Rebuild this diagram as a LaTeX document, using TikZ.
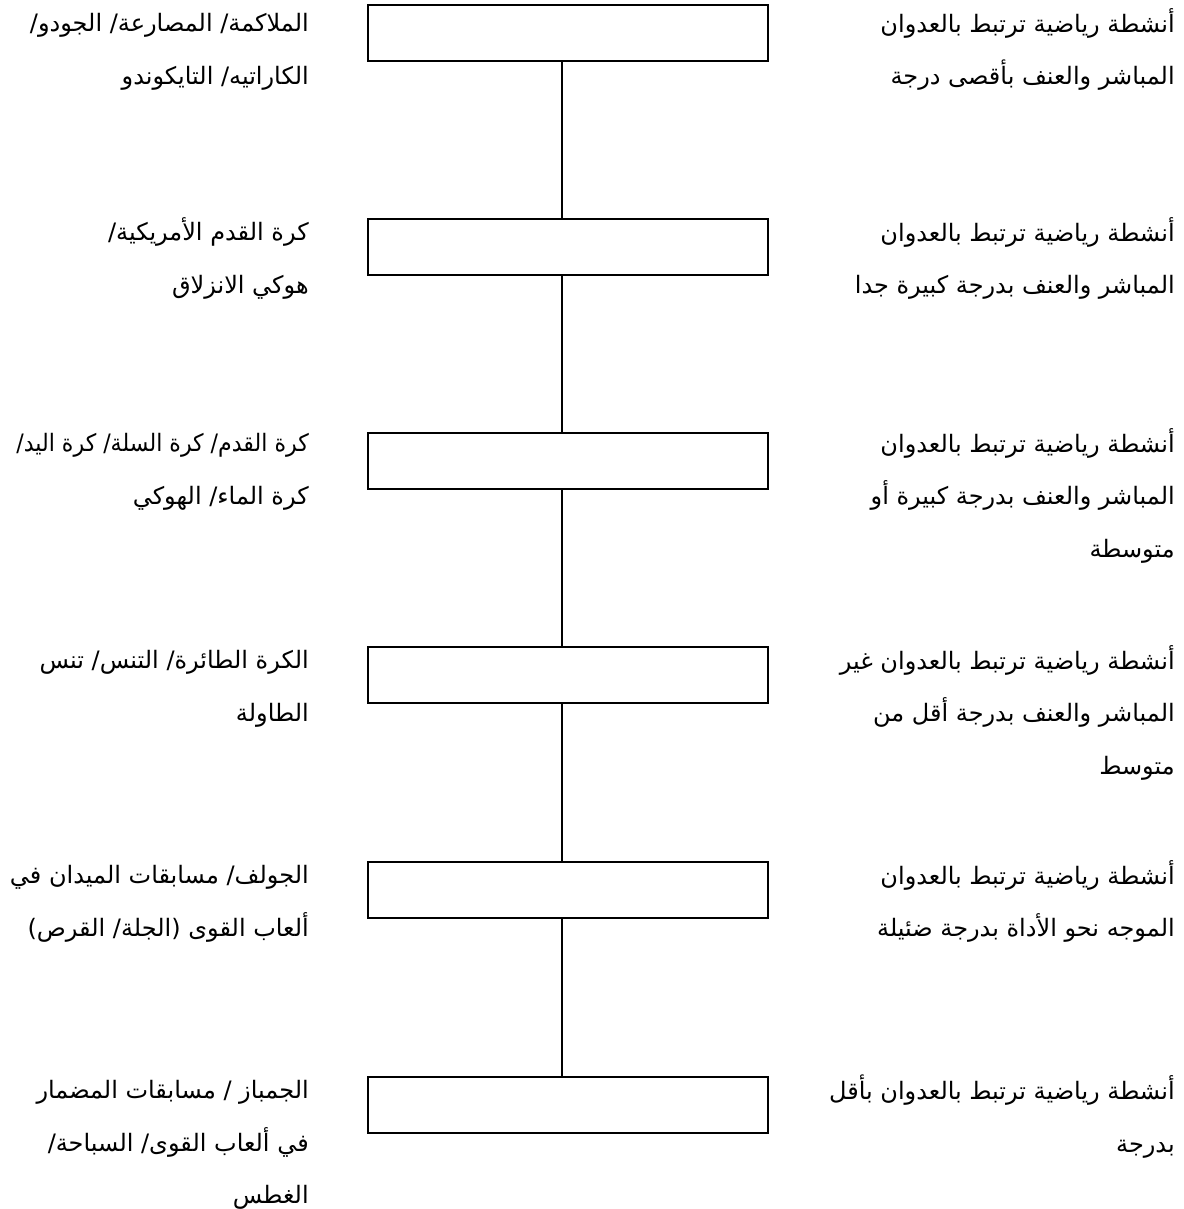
\documentclass[tikz,border=0pt]{standalone}
\usepackage{graphicx}
\usepackage{fontspec}
\newfontfamily\arabicfont[Script=Arabic]{DejaVu Sans}
\TeXXeTstate=1
\newcommand{\arl}[1]{\rule{0pt}{17.5pt}\beginR #1\endR}
\begin{document}
\begin{tikzpicture}[x=0.75pt,y=-0.75pt,
  stage/.style={draw=black,line width=1.5pt,minimum width=300pt,minimum height=41.5pt,inner sep=0pt,fill=white},
  link/.style={draw=black,line width=1.5pt},
  label/.style={anchor=north east,align=right,inner sep=0pt,font=\arabicfont\fontsize{18}{39.4}\selectfont}]
\fill[white] (0,0) rectangle (1184,1209);
\useasboundingbox (0,0) rectangle (1184,1209);
\coordinate (lx) at (562,0);
\foreach \i/\y in {1/33,2/247,3/461,4/675,5/890,6/1105}{
  \node[stage] (b\i) at (567.5,\y) {};
}
\foreach \a/\b in {1/2,2/3,3/4,4/5,5/6}{
  \draw[link] (b\a.south -| lx) -- (b\b.north -| lx);
}
% right texts
\node[label] (r1) at (1175,8) {\arl{أنشطة رياضية ترتبط بالعدوان}\\\arl{المباشر والعنف بأقصى درجة}};
\node[label] (r2) at (1175,217) {\arl{أنشطة رياضية ترتبط بالعدوان}\\\arl{المباشر والعنف بدرجة كبيرة جدا}};
\node[label] (r3) at (1175,428) {\arl{أنشطة رياضية ترتبط بالعدوان}\\\arl{المباشر والعنف بدرجة كبيرة أو}\\\arl{متوسطة}};
\node[label] (r4) at (1175,645) {\arl{أنشطة رياضية ترتبط بالعدوان غير}\\\arl{المباشر والعنف بدرجة أقل من}\\\arl{متوسط}};
\node[label] (r5) at (1175,860) {\arl{أنشطة رياضية ترتبط بالعدوان}\\\arl{الموجه نحو الأداة بدرجة ضئيلة}};
\node[label] (r6) at (1175,1075) {\arl{أنشطة رياضية ترتبط بالعدوان بأقل}\\\arl{بدرجة}};
% left texts
\node[label] (l1) at (309,8) {\arl{الملاكمة/ المصارعة/ الجودو/}\\\arl{الكاراتيه/ التايكوندو}};
\node[label] (l2) at (309,217) {\arl{كرة القدم الأمريكية/}\\\arl{هوكي الانزلاق}};
\node[label] (l3) at (309,428) {\scalebox{0.92}[1]{\arl{كرة القدم/ كرة السلة/ كرة اليد/}}\\\arl{كرة الماء/ الهوكي}};
\node[label] (l4) at (309,645) {\arl{الكرة الطائرة/ التنس/ تنس}\\\arl{الطاولة}};
\node[label] (l5) at (309,860) {\arl{الجولف/ مسابقات الميدان في}\\\arl{ألعاب القوى (الجلة/ القرص)}};
\node[label] (l6) at (309,1075) {\arl{الجمباز / مسابقات المضمار}\\\arl{في ألعاب القوى/ السباحة/}\\\arl{الغطس}};
\end{tikzpicture}
\end{document}
